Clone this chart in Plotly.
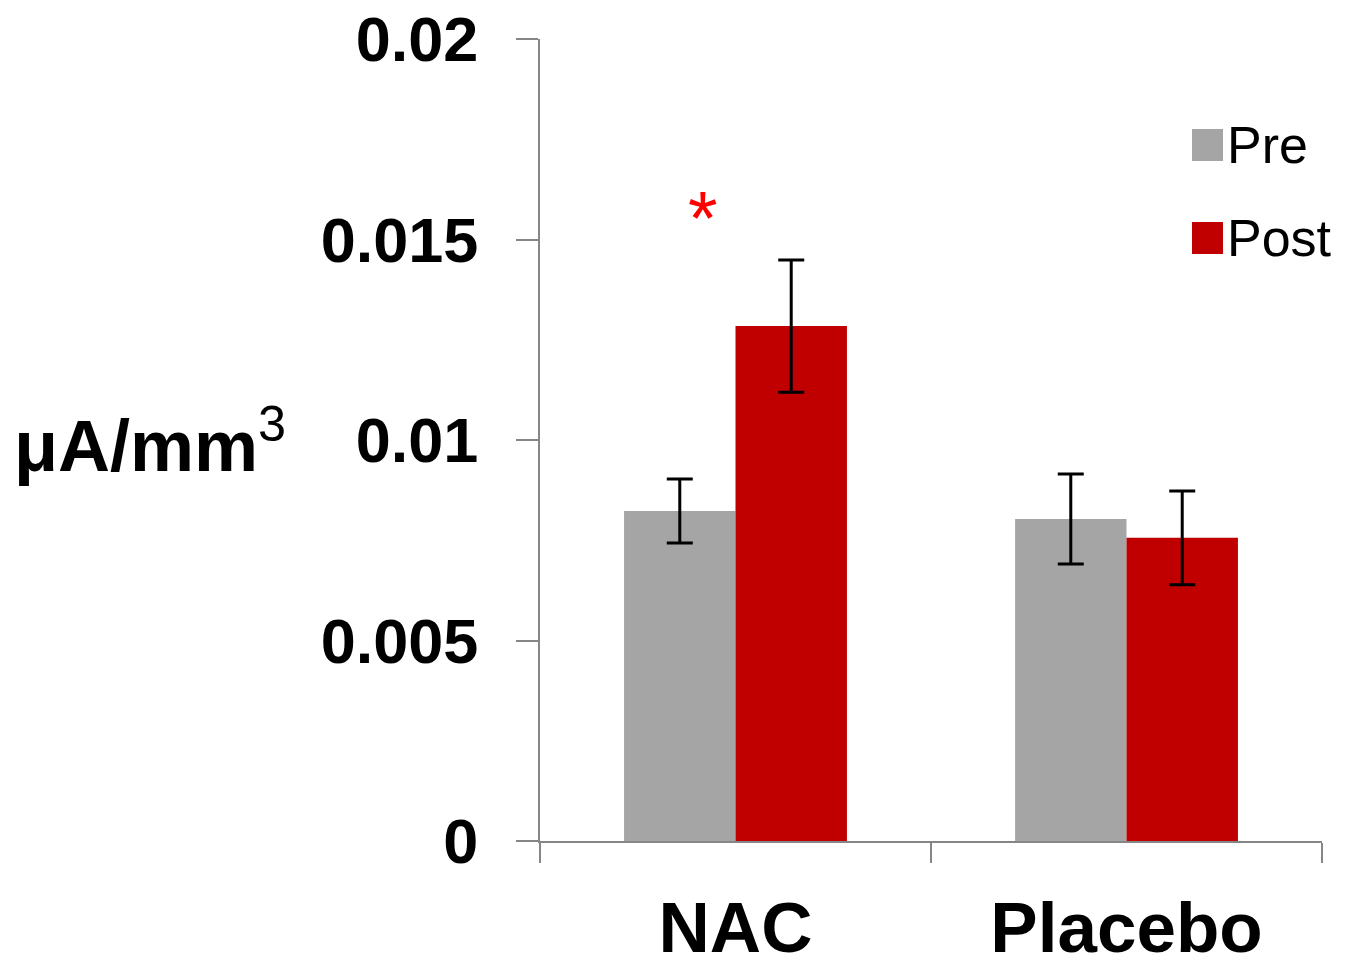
import plotly.graph_objects as go

categories = ["NAC", "Placebo"]
pre_values = [0.00823, 0.00803]
pre_errors = [0.00080, 0.00112]
post_values = [0.01284, 0.00756]
post_errors = [0.00165, 0.00117]
y_ticks = [0, 0.005, 0.01, 0.015, 0.02]
y_tick_labels = ["0", "0.005", "0.01", "0.015", "0.02"]
series_names = ["Pre", "Post"]
series_colors = ["#A5A5A5", "#C00000"]
star_category = "NAC"
star_value = 0.0158

FONT = "Liberation Sans, Arial, sans-serif"

W, H = 1354, 966
# plot area in window pixels
PX0, PX1, PY0, PY1 = 540, 1322, 39, 841


def px(x):
    return (x - PX0) / (PX1 - PX0)


def py(y):
    return (PY1 - y) / (PY1 - PY0)


fig = go.Figure()
for name, vals, errs, col in [
    (series_names[0], pre_values, pre_errors, series_colors[0]),
    (series_names[1], post_values, post_errors, series_colors[1]),
]:
    fig.add_trace(go.Bar(
        name=name, x=categories, y=vals, marker_color=col, marker_line_width=0,
        error_y=dict(type="data", array=errs, visible=True, color="black", thickness=3, width=13),
        showlegend=False,
    ))

fig.update_layout(
    width=W, height=H,
    margin=dict(l=PX0, r=W - PX1, t=PY0, b=H - PY1, autoexpand=False),
    paper_bgcolor="white", plot_bgcolor="white",
    barmode="group", bargap=0.43, bargroupgap=0,
    showlegend=False,
    font=dict(family=FONT, color="black"),
)

fig.update_yaxes(
    range=[0, 0.02], tickvals=y_ticks, ticktext=[f"<b>{t}</b>" for t in y_tick_labels],
    tickfont=dict(family=FONT, size=63, color="black"),
    showline=True, linecolor="#868686", linewidth=2,
    ticks="outside", ticklen=22, tickwidth=2, tickcolor="#868686",
    showgrid=False, zeroline=False, ticklabelstandoff=25, automargin=False,
)
fig.update_xaxes(
    tickvals=categories, ticktext=[f"<b>{c}</b>" for c in categories],
    tickfont=dict(family=FONT, size=71, color="black"),
    showline=True, linecolor="#868686", linewidth=2,
    ticks="outside", ticklen=20, tickwidth=2, tickcolor="#868686",
    tickson="boundaries", showgrid=False, ticklabelstandoff=24, automargin=False,
)

# y-axis title
fig.add_annotation(
    xref="paper", yref="paper", x=px(12), y=py(440), xanchor="left", yanchor="middle",
    text="<b>μA/mm</b><sup>3</sup>", showarrow=False,
    font=dict(family=FONT, size=72, color="black"),
)

# significance star
fig.add_annotation(
    x=star_category, y=star_value, xshift=-33, text="*", showarrow=False,
    font=dict(family=FONT, size=76, color="#FF0000"), yanchor="middle", yshift=-10,
)

# manual legend (large square swatches)
legend_rows = [145, 238]
for name, col, yc in zip(series_names, series_colors, legend_rows):
    fig.add_shape(
        type="rect", xref="paper", yref="paper",
        x0=px(1192), x1=px(1223), y0=py(yc + 16), y1=py(yc - 16),
        fillcolor=col, line_width=0,
    )
    fig.add_annotation(
        xref="paper", yref="paper", x=px(1225), y=py(yc), xanchor="left", yanchor="middle",
        text=name, showarrow=False, font=dict(family=FONT, size=52, color="black"),
    )

fig.write_html(
    "out.html",
    config={"displayModeBar": False},
    post_script="document.body.style.margin='0';document.body.style.overflow='hidden';",
)
